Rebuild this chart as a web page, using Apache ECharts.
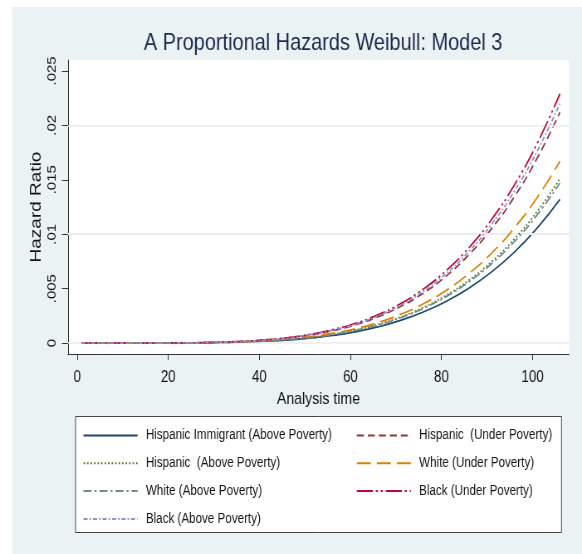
<!DOCTYPE html>
<html>
<head>
<meta charset="utf-8">
<script src="https://cdn.jsdelivr.net/npm/echarts@6/dist/echarts.min.js"></script>
<style>
html,body{margin:0;padding:0;background:#fff;overflow:hidden;}
#outer{width:582px;height:554px;overflow:hidden;position:relative;}
#chart{width:701px;height:554px;transform:scaleX(0.83024);transform-origin:0 0;}
</style>
</head>
<body>
<div id="outer"><div id="chart"></div></div>
<script>
// ---- data ----
const analysisTime = [1, 6, 11, 16, 21, 26, 31, 36, 41, 46, 51, 56, 61, 66, 71, 76, 81, 86, 91, 96, 101, 106];

const hispImmAbove = [0, 0, 0, 0.000002, 0.000008, 0.000021, 0.000046, 0.000092, 0.00017, 0.00028, 0.00046, 0.0007, 0.00104, 0.00149, 0.00209, 0.00286, 0.00383, 0.00504, 0.00654, 0.00836, 0.01056, 0.0132];
const hispUnder    = [0, 0, 0, 0.000004, 0.000012, 0.000033, 0.000074, 0.000148, 0.00027, 0.00046, 0.00073, 0.00113, 0.00167, 0.0024, 0.00336, 0.00459, 0.00615, 0.00811, 0.01051, 0.01344, 0.01698, 0.0212];
const hispAbove    = [0, 0, 0, 0.000003, 0.000009, 0.000024, 0.000053, 0.000105, 0.00019, 0.00032, 0.00052, 0.0008, 0.00119, 0.00171, 0.00239, 0.00327, 0.00438, 0.00577, 0.00748, 0.00957, 0.01208, 0.0151];
const whiteUnder   = [0, 0, 0, 0.000003, 0.00001, 0.000026, 0.000058, 0.000117, 0.00021, 0.00036, 0.00058, 0.00089, 0.00131, 0.00189, 0.00264, 0.00361, 0.00484, 0.00638, 0.00827, 0.01058, 0.01337, 0.0167];
const whiteAbove   = [0, 0, 0, 0.000003, 0.000008, 0.000023, 0.000051, 0.000103, 0.00019, 0.00032, 0.00051, 0.00078, 0.00116, 0.00166, 0.00233, 0.00318, 0.00427, 0.00562, 0.00729, 0.00932, 0.01177, 0.0147];
const blackUnder   = [0, 0, 0, 0.000004, 0.000013, 0.000036, 0.00008, 0.00016, 0.00029, 0.00049, 0.00079, 0.00122, 0.0018, 0.00259, 0.00362, 0.00496, 0.00664, 0.00875, 0.01135, 0.01452, 0.01834, 0.0229];
const blackAbove   = [0, 0, 0, 0.000004, 0.000012, 0.000035, 0.000077, 0.000154, 0.00028, 0.00047, 0.00076, 0.00117, 0.00173, 0.00249, 0.00348, 0.00476, 0.00638, 0.00841, 0.01091, 0.01395, 0.01762, 0.0220];

const seriesNames = [
  'Hispanic Immigrant (Above Poverty)',
  'Hispanic  (Under Poverty)',
  'Hispanic  (Above Poverty)',
  'White (Under Poverty)',
  'White (Above Poverty)',
  'Black (Under Poverty)',
  'Black (Above Poverty)'
];
const seriesValues = [hispImmAbove, hispUnder, hispAbove, whiteUnder, whiteAbove, blackUnder, blackAbove];

const xTicks = [0, 20, 40, 60, 80, 100];
const yTicks = [0, 0.005, 0.01, 0.015, 0.02, 0.025];
const yTickLabels = ['0', '.005', '.01', '.015', '.02', '.025'];

// ---- styles ----
const S = 0.83024;            // horizontal compression of the whole picture
const px = v => v / S;        // screen x -> chart x
const LW = 1.7;
const colors = ['#1a476f', '#90353b', '#55752f', '#e37e00', '#6e8e84', '#c10534', '#938dd2'];
const dashPx = [
  'solid',
  [7, 4],
  [1.5, 2],
  [14, 6],
  [8, 3, 2, 3],
  [16, 3, 2, 3, 2, 3],
  [4, 2, 1.5, 2]
];
function dash(d) { return d === 'solid' ? 'solid' : d.map(v => v / S); }

const FONT = "'Liberation Sans', Arial, Helvetica, sans-serif";

const series = seriesNames.map((name, i) => ({
  name: name,
  type: 'line',
  data: analysisTime.map((t, j) => [t, seriesValues[i][j]]),
  showSymbol: false,
  symbol: 'none',
  smooth: 0.5,
  z: 3 + i,
  lineStyle: { color: colors[i], width: LW, type: dash(dashPx[i]) },
  itemStyle: { color: colors[i] }
}));

// horizontal grid lines at the y ticks
series.unshift({
  name: 'grid',
  type: 'line',
  data: [],
  z: 1,
  silent: true,
  markLine: {
    silent: true,
    symbol: 'none',
    label: { show: false },
    animation: false,
    lineStyle: { color: '#e6eef0', width: 1.5, type: 'solid' },
    data: yTicks.map(v => ({ yAxis: v }))
  }
});

const legendCommon = {
  orient: 'vertical',
  top: 428.5,
  itemWidth: px(54),
  itemHeight: 14,
  itemGap: 13.8,
  padding: 0,
  selectedMode: false,
  itemStyle: { color: 'rgba(0,0,0,0)', borderColor: 'rgba(0,0,0,0)', borderWidth: 0 },
  textStyle: { fontFamily: FONT, fontSize: 14, color: '#151515', padding: [0, 0, 0, 5] }
};

const chart = echarts.init(document.getElementById('chart'), null, { renderer: 'canvas', width: 701, height: 554 });
chart.setOption({
  backgroundColor: '#ffffff',
  animation: false,
  graphic: [
    { type: 'rect', z: -10, silent: true, shape: { x: px(12), y: 7, width: 701 - px(12), height: 547 }, style: { fill: '#eaf2f3' } },
    { type: 'rect', z: -5, silent: true, shape: { x: px(75.5), y: 416.5, width: px(486), height: 116 }, style: { fill: '#ffffff', stroke: '#444', lineWidth: 1 } }
  ],
  title: {
    text: 'A Proportional Hazards Weibull: Model 3',
    left: px(319),
    top: 26,
    textAlign: 'center',
    textStyle: { fontFamily: FONT, fontSize: 24, fontWeight: 'normal', color: '#1e2b50' }
  },
  legend: [
    Object.assign({ left: px(82.7), data: [seriesNames[0], seriesNames[2], seriesNames[4], seriesNames[6]] }, legendCommon),
    Object.assign({ left: px(356), data: [seriesNames[1], seriesNames[3], seriesNames[5]] }, legendCommon)
  ],
  grid: {
    left: px(68), right: px(13), top: 60, bottom: 200,
    show: true, backgroundColor: '#ffffff', borderWidth: 0
  },
  xAxis: {
    type: 'value',
    min: -2, max: 108,
    name: 'Analysis time',
    nameLocation: 'middle',
    nameGap: 37,
    nameMoveOverlap: false,
    nameTextStyle: { fontFamily: FONT, fontSize: 17, color: '#111' },
    axisLine: { show: true, onZero: false, lineStyle: { color: '#333', width: 1 } },
    axisTick: { show: true, length: 6, customValues: xTicks, lineStyle: { color: '#333' } },
    axisLabel: { customValues: xTicks, margin: 16, fontFamily: FONT, fontSize: 16, color: '#111' },
    splitLine: { show: false }
  },
  yAxis: {
    type: 'value',
    min: -0.001, max: 0.026,
    name: 'Hazard Ratio',
    nameLocation: 'middle',
    nameGap: 29,
    nameMoveOverlap: false,
    nameTextStyle: { fontFamily: FONT, fontSize: 19, color: '#111' },
    axisLine: { show: true, onZero: false, lineStyle: { color: '#333', width: 1 } },
    axisTick: { show: true, length: px(6), customValues: yTicks, lineStyle: { color: '#333' } },
    axisLabel: {
      customValues: yTicks,
      rotate: 90,
      margin: 12,
      fontFamily: FONT, fontSize: 15, color: '#111',
      formatter: function (v) {
        for (let i = 0; i < yTicks.length; i++) { if (Math.abs(yTicks[i] - v) < 1e-9) return yTickLabels[i]; }
        return '';
      }
    },
    splitLine: { show: false }
  },
  series: series
});
</script>
</body>
</html>
